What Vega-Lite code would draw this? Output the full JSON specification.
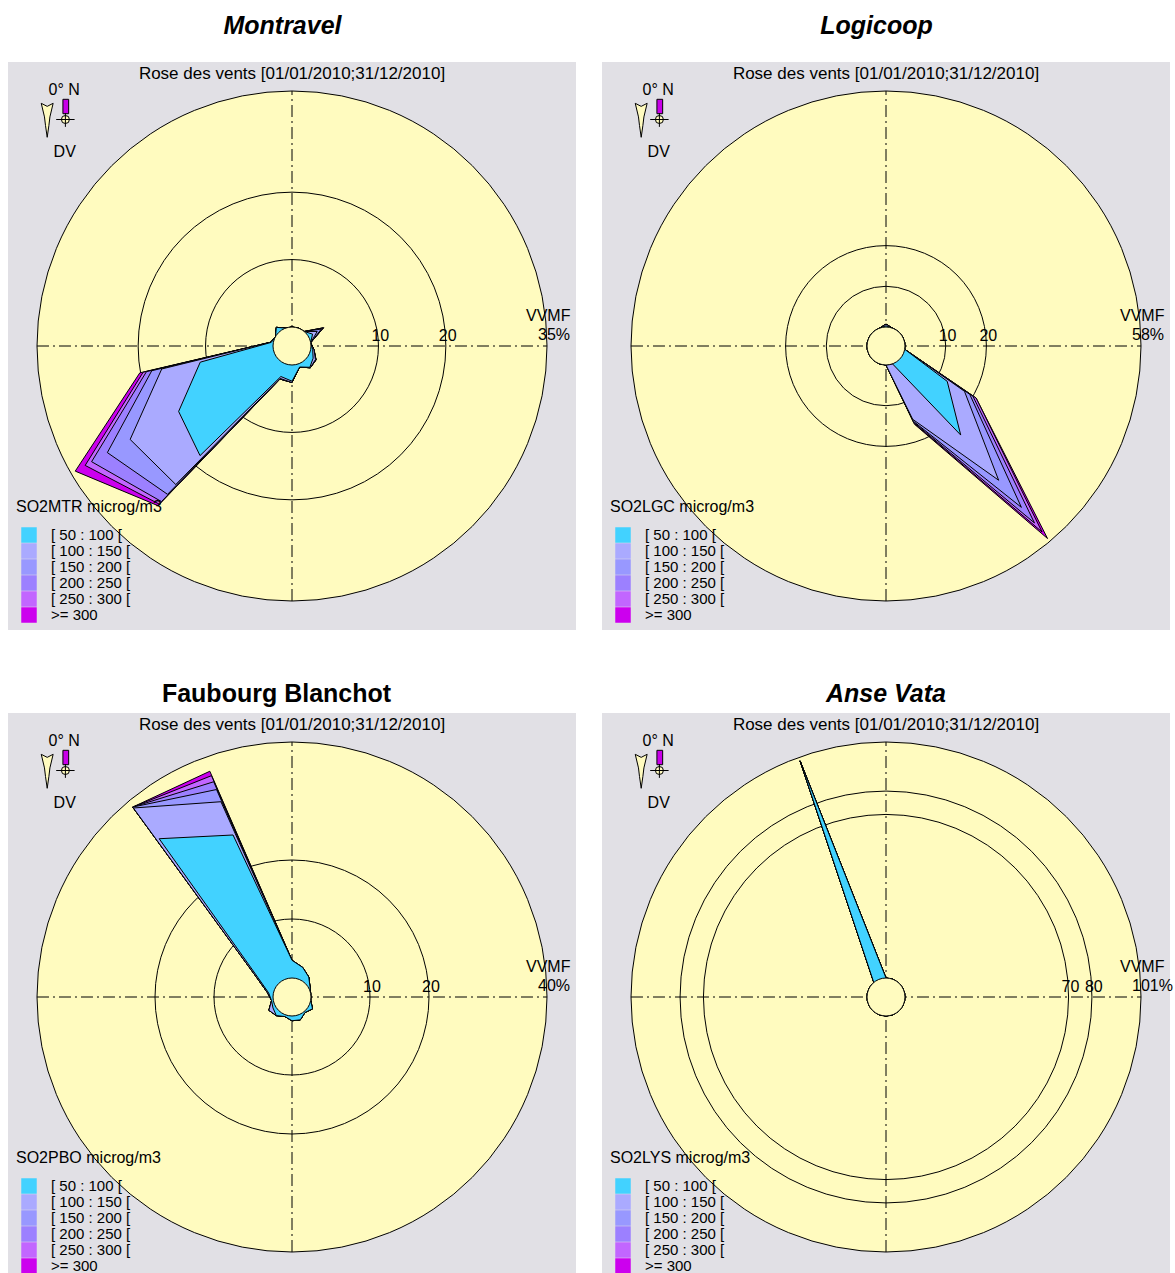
{
"$schema":"https://vega.github.io/schema/vega-lite/v6.json",
"padding":{"left":8,"top":14,"right":0,"bottom":0},
"autosize":{"type":"pad"},
"background":"white",
"bounds":"flush",
"columns":2,
"spacing":{"row":83,"column":26},
"config":{
 "font":"Liberation Sans",
 "view":{"fill":"#e1e0e5","stroke":null},
 "axis":{"disable":true},
 "text":{"fontSize":16,"color":"black","font":"Liberation Sans"},
 "title":{"font":"Liberation Sans","fontSize":25,"fontWeight":"bold","color":"black","baseline":"alphabetic","frame":"group","anchor":"middle"},
 "legend":{"orient":"none","direction":"vertical","symbolType":"square","symbolSize":240,"symbolStrokeWidth":0,"symbolOffset":5,"labelOffset":14,"rowPadding":0,"titlePadding":12,"labelFont":"Liberation Sans","labelFontSize":15,"titleFont":"Liberation Sans","titleFontSize":16,"titleFontWeight":"normal","titleColor":"black","labelColor":"black","padding":0,"labelLimit":0,"titleLimit":0,"symbolOpacity":1}
},
"datasets":{
 "mtr":[
  {"dir":0,"c50":0,"c100":0,"c150":0,"c200":0,"c250":0,"c300":0},
  {"dir":20,"c50":0,"c100":0,"c150":0,"c200":0,"c250":0,"c300":0},
  {"dir":40,"c50":0,"c100":0,"c150":0,"c200":0,"c250":0,"c300":0},
  {"dir":60,"c50":0.7,"c100":1.5,"c150":2.2,"c200":2.5,"c250":2.6,"c300":2.6},
  {"dir":80,"c50":0,"c100":0,"c150":0,"c200":0,"c250":0,"c300":0},
  {"dir":100,"c50":0.3,"c100":0.5,"c150":0.5,"c200":0.5,"c250":0.5,"c300":0.5},
  {"dir":120,"c50":0.8,"c100":1.2,"c150":1.3,"c200":1.3,"c250":1.3,"c300":1.3},
  {"dir":140,"c50":1.3,"c100":1.4,"c150":1.4,"c200":1.4,"c250":1.4,"c300":1.4},
  {"dir":160,"c50":0.5,"c100":0.5,"c150":0.5,"c200":0.5,"c250":0.5,"c300":0.5},
  {"dir":180,"c50":2.4,"c100":2.6,"c150":2.6,"c200":2.6,"c250":2.6,"c300":2.6},
  {"dir":200,"c50":2.0,"c100":2.3,"c150":2.4,"c200":2.4,"c250":2.4,"c300":2.4},
  {"dir":220,"c50":18.4,"c100":24.0,"c150":25.9,"c200":27.3,"c250":27.8,"c300":28.1},
  {"dir":240,"c50":16.6,"c100":24.9,"c150":28.8,"c200":31.5,"c250":32.6,"c300":34.3},
  {"dir":260,"c50":11.0,"c100":16.8,"c150":18.3,"c200":19.1,"c250":19.6,"c300":20.1},
  {"dir":280,"c50":0.3,"c100":0.4,"c150":0.4,"c200":0.4,"c250":0.4,"c300":0.4},
  {"dir":300,"c50":0,"c100":0,"c150":0,"c200":0,"c250":0,"c300":0},
  {"dir":320,"c50":0.8,"c100":0.8,"c150":0.8,"c200":0.8,"c250":0.8,"c300":0.8},
  {"dir":340,"c50":0,"c100":0,"c150":0,"c200":0,"c250":0,"c300":0}
 ],
 "lgc":[
  {"dir":0,"c50":0.3,"c100":0.7,"c150":0.7,"c200":0.7,"c250":0.7,"c300":0.7},
  {"dir":20,"c50":0,"c100":0,"c150":0,"c200":0,"c250":0,"c300":0},
  {"dir":40,"c50":0,"c100":0,"c150":0,"c200":0,"c250":0,"c300":0},
  {"dir":60,"c50":0,"c100":0,"c150":0,"c200":0,"c250":0,"c300":0},
  {"dir":80,"c50":0,"c100":0,"c150":0,"c200":0,"c250":0,"c300":0},
  {"dir":100,"c50":0,"c100":0,"c150":0,"c200":0,"c250":0,"c300":0},
  {"dir":120,"c50":12.7,"c100":17.6,"c150":19.1,"c200":20.0,"c250":20.9,"c300":20.9},
  {"dir":140,"c50":23.9,"c100":38.4,"c150":47.1,"c200":52.1,"c250":55.0,"c300":57.1},
  {"dir":160,"c50":0,"c100":14.5,"c150":15.0,"c200":15.3,"c250":15.6,"c300":15.8},
  {"dir":180,"c50":0,"c100":0,"c150":0,"c200":0,"c250":0,"c300":0},
  {"dir":200,"c50":0,"c100":0,"c150":0,"c200":0,"c250":0,"c300":0},
  {"dir":220,"c50":0,"c100":0,"c150":0,"c200":0,"c250":0,"c300":0},
  {"dir":240,"c50":0,"c100":0,"c150":0,"c200":0,"c250":0,"c300":0},
  {"dir":260,"c50":0,"c100":0,"c150":0,"c200":0,"c250":0,"c300":0},
  {"dir":280,"c50":0,"c100":0,"c150":0,"c200":0,"c250":0,"c300":0},
  {"dir":300,"c50":0,"c100":0,"c150":0,"c200":0,"c250":0,"c300":0},
  {"dir":320,"c50":0,"c100":0,"c150":0,"c200":0,"c250":0,"c300":0},
  {"dir":340,"c50":0,"c100":0,"c150":0,"c200":0,"c250":0,"c300":0}
 ],
 "pbo":[
  {"dir":0,"c50":3.0,"c100":3.0,"c150":3.0,"c200":3.0,"c250":3.0,"c300":3.0},
  {"dir":20,"c50":2.1,"c100":2.1,"c150":2.1,"c200":2.1,"c250":2.1,"c300":2.1},
  {"dir":40,"c50":1.2,"c100":1.2,"c150":1.2,"c200":1.2,"c250":1.2,"c300":1.2},
  {"dir":60,"c50":0.3,"c100":0.3,"c150":0.3,"c200":0.3,"c250":0.3,"c300":0.3},
  {"dir":80,"c50":0,"c100":0,"c150":0,"c200":0,"c250":0,"c300":0},
  {"dir":100,"c50":0,"c100":0,"c150":0,"c200":0,"c250":0,"c300":0},
  {"dir":120,"c50":0.8,"c100":0.8,"c150":0.8,"c200":0.8,"c250":0.8,"c300":0.8},
  {"dir":140,"c50":0.2,"c100":0.2,"c150":0.2,"c200":0.2,"c250":0.2,"c300":0.2},
  {"dir":160,"c50":0.9,"c100":0.9,"c150":0.9,"c200":0.9,"c250":0.9,"c300":0.9},
  {"dir":180,"c50":0.8,"c100":0.8,"c150":0.8,"c200":0.8,"c250":0.8,"c300":0.8},
  {"dir":200,"c50":0.3,"c100":0.3,"c150":0.3,"c200":0.3,"c250":0.3,"c300":0.3},
  {"dir":220,"c50":0.9,"c100":0.9,"c150":0.9,"c200":0.9,"c250":0.9,"c300":0.9},
  {"dir":240,"c50":0.5,"c100":1.3,"c150":1.3,"c200":1.3,"c250":1.3,"c300":1.3},
  {"dir":260,"c50":0.3,"c100":0.3,"c150":0.3,"c200":0.3,"c250":0.3,"c300":0.3},
  {"dir":280,"c50":0.8,"c100":1.0,"c150":1.0,"c200":1.0,"c250":1.0,"c300":1.0},
  {"dir":300,"c50":3.5,"c100":3.9,"c150":3.9,"c200":3.9,"c250":3.9,"c300":3.9},
  {"dir":320,"c50":31.8,"c100":38.6,"c150":38.8,"c200":38.8,"c250":38.8,"c300":38.8},
  {"dir":340,"c50":26.0,"c100":32.0,"c150":34.2,"c200":35.6,"c250":36.7,"c300":37.5}
 ],
 "lys":[
  {"dir":0,"c50":0,"c100":0,"c150":0,"c200":0,"c250":0,"c300":0},
  {"dir":20,"c50":0,"c100":0,"c150":0,"c200":0,"c250":0,"c300":0},
  {"dir":40,"c50":0,"c100":0,"c150":0,"c200":0,"c250":0,"c300":0},
  {"dir":60,"c50":0,"c100":0,"c150":0,"c200":0,"c250":0,"c300":0},
  {"dir":80,"c50":0,"c100":0,"c150":0,"c200":0,"c250":0,"c300":0},
  {"dir":100,"c50":0,"c100":0,"c150":0,"c200":0,"c250":0,"c300":0},
  {"dir":120,"c50":0,"c100":0,"c150":0,"c200":0,"c250":0,"c300":0},
  {"dir":140,"c50":0,"c100":0,"c150":0,"c200":0,"c250":0,"c300":0},
  {"dir":160,"c50":0,"c100":0,"c150":0,"c200":0,"c250":0,"c300":0},
  {"dir":180,"c50":0,"c100":0,"c150":0,"c200":0,"c250":0,"c300":0},
  {"dir":200,"c50":0,"c100":0,"c150":0,"c200":0,"c250":0,"c300":0},
  {"dir":220,"c50":0,"c100":0,"c150":0,"c200":0,"c250":0,"c300":0},
  {"dir":240,"c50":0,"c100":0,"c150":0,"c200":0,"c250":0,"c300":0},
  {"dir":260,"c50":0,"c100":0,"c150":0,"c200":0,"c250":0,"c300":0},
  {"dir":280,"c50":0,"c100":0,"c150":0,"c200":0,"c250":0,"c300":0},
  {"dir":300,"c50":0,"c100":0,"c150":0,"c200":0,"c250":0,"c300":0},
  {"dir":320,"c50":0,"c100":0,"c150":0,"c200":0,"c250":0,"c300":0},
  {"dir":340,"c50":99.4,"c100":99.4,"c150":99.4,"c200":99.4,"c250":99.4,"c300":99.4}
 ],
 "mtr_r":[{"kind":"outer","pct":35,"label":"35%"},{"kind":"ring","pct":10,"label":"10"},{"kind":"ring","pct":20,"label":"20"},{"kind":"hole","pct":0,"label":""}],
 "lgc_r":[{"kind":"outer","pct":58,"label":"58%"},{"kind":"ring","pct":10,"label":"10"},{"kind":"ring","pct":20,"label":"20"},{"kind":"hole","pct":0,"label":""}],
 "pbo_r":[{"kind":"outer","pct":40,"label":"40%"},{"kind":"ring","pct":10,"label":"10"},{"kind":"ring","pct":20,"label":"20"},{"kind":"hole","pct":0,"label":""}],
 "lys_r":[{"kind":"outer","pct":101,"label":"101%"},{"kind":"ring","pct":70,"label":"70"},{"kind":"ring","pct":80,"label":"80"},{"kind":"hole","pct":0,"label":""}]
},
"resolve":{"scale":{"fill":"independent","x":"independent","y":"independent","radius":"independent"},"legend":{"fill":"independent"}},
"concat":[
{
 "width":568,"height":568,
 "title":{"text":"Montravel","fontStyle":"italic","dx":-9.5,"offset":23},
 "data":{"values":[{}]},
 "layer":[
  {"data":{"name":"mtr_r"},"transform":[{"filter":"datum.kind=='outer'"},{"calculate":"(19+datum.pct*236/35)/284","as":"rn"}],"mark":{"type":"arc","theta":0,"theta2":6.2832,"fill":"#fffbbf","stroke":"black","strokeWidth":1},"encoding":{"radius":{"field":"rn","type":"quantitative","stack":null,"scale":{"type":"linear","domain":[0,1],"range":[0,284]}}}},
  {"data":{"name":"mtr_r"},"transform":[{"filter":"datum.kind=='ring'"},{"calculate":"(19+datum.pct*236/35)/284","as":"rn"}],"mark":{"type":"arc","theta":0,"theta2":6.2832,"filled":false,"stroke":"black","strokeWidth":1},"encoding":{"radius":{"field":"rn","type":"quantitative","stack":null,"scale":{"type":"linear","domain":[0,1],"range":[0,284]}}}},
  {"mark":{"type":"rule","stroke":"black","strokeDash":[12,4,2,4]},"encoding":{"x":{"datum":-0.8979},"x2":{"datum":0.8979},"y":{"datum":0}}},
  {"mark":{"type":"rule","stroke":"black","strokeDash":[12,4,2,4]},"encoding":{"y":{"datum":-0.8979},"y2":{"datum":0.8979},"x":{"datum":0}}},
  {"data":{"name":"mtr"},"transform":[{"fold":["c300","c250","c200","c150","c100","c50"],"as":["cls","pct"]},{"calculate":"(19+datum.pct*236/35)/284","as":"rn"},{"calculate":"datum.rn*sin(datum.dir*PI/180)","as":"px"},{"calculate":"datum.rn*cos(datum.dir*PI/180)","as":"py"}],
   "mark":{"type":"line","interpolate":"linear-closed","stroke":"black","strokeWidth":1},
   "encoding":{"x":{"field":"px","type":"quantitative","scale":{"domain":[-1,1]}},"y":{"field":"py","type":"quantitative","scale":{"domain":[-1,1]}},"order":{"field":"dir","type":"quantitative"},
    "fill":{"field":"cls","type":"nominal","title":"SO2MTR microg/m3","scale":{"domain":["c50","c100","c150","c200","c250","c300"],"range":["#42d2ff","#aaaaff","#9898ff","#9c80ff","#c266ff","#cc00ee"]},"legend":{"legendX":8,"legendY":437,"labelExpr":"{'c50':'[ 50 : 100 [','c100':'[ 100 : 150 [','c150':'[ 150 : 200 [','c200':'[ 200 : 250 [','c250':'[ 250 : 300 [','c300':'>= 300'}[datum.label]"}}}},
  {"data":{"name":"mtr_r"},"transform":[{"filter":"datum.kind=='hole'"},{"calculate":"(19+datum.pct*236/35)/284","as":"rn"}],"mark":{"type":"arc","theta":0,"theta2":6.2832,"fill":"#fffbbf","stroke":"black","strokeWidth":1},"encoding":{"radius":{"field":"rn","type":"quantitative","stack":null,"scale":{"type":"linear","domain":[0,1],"range":[0,284]}}}},
  {"data":{"name":"mtr_r"},"transform":[{"filter":"datum.kind=='ring'"},{"calculate":"(19+datum.pct*236/35)/284","as":"rn"}],"mark":{"type":"text","align":"left","baseline":"alphabetic","dx":-7,"dy":-5},"encoding":{"x":{"field":"rn","type":"quantitative"},"y":{"datum":0},"text":{"field":"label"}}},
  {"data":{"name":"mtr_r"},"transform":[{"filter":"datum.kind=='outer'"},{"calculate":"(19+datum.pct*236/35)/284","as":"rn"}],"mark":{"type":"text","align":"left","baseline":"alphabetic","dx":-9,"dy":-6},"encoding":{"x":{"field":"rn","type":"quantitative"},"y":{"datum":0},"text":{"field":"label"}}},
  {"data":{"name":"mtr_r"},"transform":[{"filter":"datum.kind=='outer'"},{"calculate":"(19+datum.pct*236/35)/284","as":"rn"}],"mark":{"type":"text","text":"VVMF","align":"left","baseline":"alphabetic","dx":-21,"dy":-25},"encoding":{"x":{"field":"rn","type":"quantitative"},"y":{"datum":0}}},
  {"mark":{"type":"text","text":"Rose des vents [01/01/2010;31/12/2010]","fontSize":17,"align":"center","baseline":"alphabetic"},"encoding":{"x":{"datum":0},"y":{"datum":0.9401}}},
  {"mark":{"type":"text","text":"0° N","align":"center","baseline":"alphabetic"},"encoding":{"x":{"datum":-0.8021},"y":{"datum":0.8827}}},
  {"mark":{"type":"text","text":"DV","align":"center","baseline":"alphabetic"},"encoding":{"x":{"datum":-0.8004},"y":{"datum":0.6655}}},
  {"mark":{"type":"point","shape":"M-0.35,-1L0,-0.82L0.35,-1L0.16,-0.2L0.1,0.3L0,1L-0.1,0.3L-0.16,-0.2Z","size":1156,"filled":true,"fill":"#fffbbf","stroke":"black","strokeWidth":1,"opacity":1},"encoding":{"x":{"datum":-0.862},"y":{"datum":0.7947}}},
  {"mark":{"type":"point","shape":"M-0.4,-1H0.4V1H-0.4Z","size":207,"filled":true,"fill":"#c800e8","stroke":"black","strokeWidth":1,"opacity":1},"encoding":{"x":{"datum":-0.7965},"y":{"datum":0.8433}}},
  {"mark":{"type":"point","shape":"circle","size":64,"filled":true,"fill":"#fffbbf","stroke":"black","strokeWidth":1,"opacity":1},"encoding":{"x":{"datum":-0.7979},"y":{"datum":0.7975}}},
  {"mark":{"type":"point","shape":"M-1,0H1M0,-0.7V0.8","size":339,"filled":false,"stroke":"black","strokeWidth":1,"opacity":1},"encoding":{"x":{"datum":-0.7979},"y":{"datum":0.7975}}}
 ]
},
{
 "width":568,"height":568,
 "title":{"text":"Logicoop","fontStyle":"italic","dx":-9.5,"offset":23},
 "data":{"values":[{}]},
 "layer":[
  {"data":{"name":"lgc_r"},"transform":[{"filter":"datum.kind=='outer'"},{"calculate":"(19+datum.pct*236/58)/284","as":"rn"}],"mark":{"type":"arc","theta":0,"theta2":6.2832,"fill":"#fffbbf","stroke":"black","strokeWidth":1},"encoding":{"radius":{"field":"rn","type":"quantitative","stack":null,"scale":{"type":"linear","domain":[0,1],"range":[0,284]}}}},
  {"data":{"name":"lgc_r"},"transform":[{"filter":"datum.kind=='ring'"},{"calculate":"(19+datum.pct*236/58)/284","as":"rn"}],"mark":{"type":"arc","theta":0,"theta2":6.2832,"filled":false,"stroke":"black","strokeWidth":1},"encoding":{"radius":{"field":"rn","type":"quantitative","stack":null,"scale":{"type":"linear","domain":[0,1],"range":[0,284]}}}},
  {"mark":{"type":"rule","stroke":"black","strokeDash":[12,4,2,4]},"encoding":{"x":{"datum":-0.8979},"x2":{"datum":0.8979},"y":{"datum":0}}},
  {"mark":{"type":"rule","stroke":"black","strokeDash":[12,4,2,4]},"encoding":{"y":{"datum":-0.8979},"y2":{"datum":0.8979},"x":{"datum":0}}},
  {"data":{"name":"lgc"},"transform":[{"fold":["c300","c250","c200","c150","c100","c50"],"as":["cls","pct"]},{"calculate":"(19+datum.pct*236/58)/284","as":"rn"},{"calculate":"datum.rn*sin(datum.dir*PI/180)","as":"px"},{"calculate":"datum.rn*cos(datum.dir*PI/180)","as":"py"}],
   "mark":{"type":"line","interpolate":"linear-closed","stroke":"black","strokeWidth":1},
   "encoding":{"x":{"field":"px","type":"quantitative","scale":{"domain":[-1,1]}},"y":{"field":"py","type":"quantitative","scale":{"domain":[-1,1]}},"order":{"field":"dir","type":"quantitative"},
    "fill":{"field":"cls","type":"nominal","title":"SO2LGC microg/m3","scale":{"domain":["c50","c100","c150","c200","c250","c300"],"range":["#42d2ff","#aaaaff","#9898ff","#9c80ff","#c266ff","#cc00ee"]},"legend":{"legendX":8,"legendY":437,"labelExpr":"{'c50':'[ 50 : 100 [','c100':'[ 100 : 150 [','c150':'[ 150 : 200 [','c200':'[ 200 : 250 [','c250':'[ 250 : 300 [','c300':'>= 300'}[datum.label]"}}}},
  {"data":{"name":"lgc_r"},"transform":[{"filter":"datum.kind=='hole'"},{"calculate":"(19+datum.pct*236/58)/284","as":"rn"}],"mark":{"type":"arc","theta":0,"theta2":6.2832,"fill":"#fffbbf","stroke":"black","strokeWidth":1},"encoding":{"radius":{"field":"rn","type":"quantitative","stack":null,"scale":{"type":"linear","domain":[0,1],"range":[0,284]}}}},
  {"data":{"name":"lgc_r"},"transform":[{"filter":"datum.kind=='ring'"},{"calculate":"(19+datum.pct*236/58)/284","as":"rn"}],"mark":{"type":"text","align":"left","baseline":"alphabetic","dx":-7,"dy":-5},"encoding":{"x":{"field":"rn","type":"quantitative"},"y":{"datum":0},"text":{"field":"label"}}},
  {"data":{"name":"lgc_r"},"transform":[{"filter":"datum.kind=='outer'"},{"calculate":"(19+datum.pct*236/58)/284","as":"rn"}],"mark":{"type":"text","align":"left","baseline":"alphabetic","dx":-9,"dy":-6},"encoding":{"x":{"field":"rn","type":"quantitative"},"y":{"datum":0},"text":{"field":"label"}}},
  {"data":{"name":"lgc_r"},"transform":[{"filter":"datum.kind=='outer'"},{"calculate":"(19+datum.pct*236/58)/284","as":"rn"}],"mark":{"type":"text","text":"VVMF","align":"left","baseline":"alphabetic","dx":-21,"dy":-25},"encoding":{"x":{"field":"rn","type":"quantitative"},"y":{"datum":0}}},
  {"mark":{"type":"text","text":"Rose des vents [01/01/2010;31/12/2010]","fontSize":17,"align":"center","baseline":"alphabetic"},"encoding":{"x":{"datum":0},"y":{"datum":0.9401}}},
  {"mark":{"type":"text","text":"0° N","align":"center","baseline":"alphabetic"},"encoding":{"x":{"datum":-0.8021},"y":{"datum":0.8827}}},
  {"mark":{"type":"text","text":"DV","align":"center","baseline":"alphabetic"},"encoding":{"x":{"datum":-0.8004},"y":{"datum":0.6655}}},
  {"mark":{"type":"point","shape":"M-0.35,-1L0,-0.82L0.35,-1L0.16,-0.2L0.1,0.3L0,1L-0.1,0.3L-0.16,-0.2Z","size":1156,"filled":true,"fill":"#fffbbf","stroke":"black","strokeWidth":1,"opacity":1},"encoding":{"x":{"datum":-0.862},"y":{"datum":0.7947}}},
  {"mark":{"type":"point","shape":"M-0.4,-1H0.4V1H-0.4Z","size":207,"filled":true,"fill":"#c800e8","stroke":"black","strokeWidth":1,"opacity":1},"encoding":{"x":{"datum":-0.7965},"y":{"datum":0.8433}}},
  {"mark":{"type":"point","shape":"circle","size":64,"filled":true,"fill":"#fffbbf","stroke":"black","strokeWidth":1,"opacity":1},"encoding":{"x":{"datum":-0.7979},"y":{"datum":0.7975}}},
  {"mark":{"type":"point","shape":"M-1,0H1M0,-0.7V0.8","size":339,"filled":false,"stroke":"black","strokeWidth":1,"opacity":1},"encoding":{"x":{"datum":-0.7979},"y":{"datum":0.7975}}}
 ]
},
{
 "width":568,"height":568,
 "title":{"text":"Faubourg Blanchot","fontStyle":"normal","dx":-15.5,"offset":6},
 "data":{"values":[{}]},
 "layer":[
  {"data":{"name":"pbo_r"},"transform":[{"filter":"datum.kind=='outer'"},{"calculate":"(19+datum.pct*236/40)/284","as":"rn"}],"mark":{"type":"arc","theta":0,"theta2":6.2832,"fill":"#fffbbf","stroke":"black","strokeWidth":1},"encoding":{"radius":{"field":"rn","type":"quantitative","stack":null,"scale":{"type":"linear","domain":[0,1],"range":[0,284]}}}},
  {"data":{"name":"pbo_r"},"transform":[{"filter":"datum.kind=='ring'"},{"calculate":"(19+datum.pct*236/40)/284","as":"rn"}],"mark":{"type":"arc","theta":0,"theta2":6.2832,"filled":false,"stroke":"black","strokeWidth":1},"encoding":{"radius":{"field":"rn","type":"quantitative","stack":null,"scale":{"type":"linear","domain":[0,1],"range":[0,284]}}}},
  {"mark":{"type":"rule","stroke":"black","strokeDash":[12,4,2,4]},"encoding":{"x":{"datum":-0.8979},"x2":{"datum":0.8979},"y":{"datum":0}}},
  {"mark":{"type":"rule","stroke":"black","strokeDash":[12,4,2,4]},"encoding":{"y":{"datum":-0.8979},"y2":{"datum":0.8979},"x":{"datum":0}}},
  {"data":{"name":"pbo"},"transform":[{"fold":["c300","c250","c200","c150","c100","c50"],"as":["cls","pct"]},{"calculate":"(19+datum.pct*236/40)/284","as":"rn"},{"calculate":"datum.rn*sin(datum.dir*PI/180)","as":"px"},{"calculate":"datum.rn*cos(datum.dir*PI/180)","as":"py"}],
   "mark":{"type":"line","interpolate":"linear-closed","stroke":"black","strokeWidth":1},
   "encoding":{"x":{"field":"px","type":"quantitative","scale":{"domain":[-1,1]}},"y":{"field":"py","type":"quantitative","scale":{"domain":[-1,1]}},"order":{"field":"dir","type":"quantitative"},
    "fill":{"field":"cls","type":"nominal","title":"SO2PBO microg/m3","scale":{"domain":["c50","c100","c150","c200","c250","c300"],"range":["#42d2ff","#aaaaff","#9898ff","#9c80ff","#c266ff","#cc00ee"]},"legend":{"legendX":8,"legendY":437,"labelExpr":"{'c50':'[ 50 : 100 [','c100':'[ 100 : 150 [','c150':'[ 150 : 200 [','c200':'[ 200 : 250 [','c250':'[ 250 : 300 [','c300':'>= 300'}[datum.label]"}}}},
  {"data":{"name":"pbo_r"},"transform":[{"filter":"datum.kind=='hole'"},{"calculate":"(19+datum.pct*236/40)/284","as":"rn"}],"mark":{"type":"arc","theta":0,"theta2":6.2832,"fill":"#fffbbf","stroke":"black","strokeWidth":1},"encoding":{"radius":{"field":"rn","type":"quantitative","stack":null,"scale":{"type":"linear","domain":[0,1],"range":[0,284]}}}},
  {"data":{"name":"pbo_r"},"transform":[{"filter":"datum.kind=='ring'"},{"calculate":"(19+datum.pct*236/40)/284","as":"rn"}],"mark":{"type":"text","align":"left","baseline":"alphabetic","dx":-7,"dy":-5},"encoding":{"x":{"field":"rn","type":"quantitative"},"y":{"datum":0},"text":{"field":"label"}}},
  {"data":{"name":"pbo_r"},"transform":[{"filter":"datum.kind=='outer'"},{"calculate":"(19+datum.pct*236/40)/284","as":"rn"}],"mark":{"type":"text","align":"left","baseline":"alphabetic","dx":-9,"dy":-6},"encoding":{"x":{"field":"rn","type":"quantitative"},"y":{"datum":0},"text":{"field":"label"}}},
  {"data":{"name":"pbo_r"},"transform":[{"filter":"datum.kind=='outer'"},{"calculate":"(19+datum.pct*236/40)/284","as":"rn"}],"mark":{"type":"text","text":"VVMF","align":"left","baseline":"alphabetic","dx":-21,"dy":-25},"encoding":{"x":{"field":"rn","type":"quantitative"},"y":{"datum":0}}},
  {"mark":{"type":"text","text":"Rose des vents [01/01/2010;31/12/2010]","fontSize":17,"align":"center","baseline":"alphabetic"},"encoding":{"x":{"datum":0},"y":{"datum":0.9401}}},
  {"mark":{"type":"text","text":"0° N","align":"center","baseline":"alphabetic"},"encoding":{"x":{"datum":-0.8021},"y":{"datum":0.8827}}},
  {"mark":{"type":"text","text":"DV","align":"center","baseline":"alphabetic"},"encoding":{"x":{"datum":-0.8004},"y":{"datum":0.6655}}},
  {"mark":{"type":"point","shape":"M-0.35,-1L0,-0.82L0.35,-1L0.16,-0.2L0.1,0.3L0,1L-0.1,0.3L-0.16,-0.2Z","size":1156,"filled":true,"fill":"#fffbbf","stroke":"black","strokeWidth":1,"opacity":1},"encoding":{"x":{"datum":-0.862},"y":{"datum":0.7947}}},
  {"mark":{"type":"point","shape":"M-0.4,-1H0.4V1H-0.4Z","size":207,"filled":true,"fill":"#c800e8","stroke":"black","strokeWidth":1,"opacity":1},"encoding":{"x":{"datum":-0.7965},"y":{"datum":0.8433}}},
  {"mark":{"type":"point","shape":"circle","size":64,"filled":true,"fill":"#fffbbf","stroke":"black","strokeWidth":1,"opacity":1},"encoding":{"x":{"datum":-0.7979},"y":{"datum":0.7975}}},
  {"mark":{"type":"point","shape":"M-1,0H1M0,-0.7V0.8","size":339,"filled":false,"stroke":"black","strokeWidth":1,"opacity":1},"encoding":{"x":{"datum":-0.7979},"y":{"datum":0.7975}}}
 ]
},
{
 "width":568,"height":568,
 "title":{"text":"Anse Vata","fontStyle":"italic","dx":0,"offset":6},
 "data":{"values":[{}]},
 "layer":[
  {"data":{"name":"lys_r"},"transform":[{"filter":"datum.kind=='outer'"},{"calculate":"(19+datum.pct*236/101)/284","as":"rn"}],"mark":{"type":"arc","theta":0,"theta2":6.2832,"fill":"#fffbbf","stroke":"black","strokeWidth":1},"encoding":{"radius":{"field":"rn","type":"quantitative","stack":null,"scale":{"type":"linear","domain":[0,1],"range":[0,284]}}}},
  {"data":{"name":"lys_r"},"transform":[{"filter":"datum.kind=='ring'"},{"calculate":"(19+datum.pct*236/101)/284","as":"rn"}],"mark":{"type":"arc","theta":0,"theta2":6.2832,"filled":false,"stroke":"black","strokeWidth":1},"encoding":{"radius":{"field":"rn","type":"quantitative","stack":null,"scale":{"type":"linear","domain":[0,1],"range":[0,284]}}}},
  {"mark":{"type":"rule","stroke":"black","strokeDash":[12,4,2,4]},"encoding":{"x":{"datum":-0.8979},"x2":{"datum":0.8979},"y":{"datum":0}}},
  {"mark":{"type":"rule","stroke":"black","strokeDash":[12,4,2,4]},"encoding":{"y":{"datum":-0.8979},"y2":{"datum":0.8979},"x":{"datum":0}}},
  {"data":{"name":"lys"},"transform":[{"fold":["c300","c250","c200","c150","c100","c50"],"as":["cls","pct"]},{"calculate":"(19+datum.pct*236/101)/284","as":"rn"},{"calculate":"datum.rn*sin(datum.dir*PI/180)","as":"px"},{"calculate":"datum.rn*cos(datum.dir*PI/180)","as":"py"}],
   "mark":{"type":"line","interpolate":"linear-closed","stroke":"black","strokeWidth":1},
   "encoding":{"x":{"field":"px","type":"quantitative","scale":{"domain":[-1,1]}},"y":{"field":"py","type":"quantitative","scale":{"domain":[-1,1]}},"order":{"field":"dir","type":"quantitative"},
    "fill":{"field":"cls","type":"nominal","title":"SO2LYS microg/m3","scale":{"domain":["c50","c100","c150","c200","c250","c300"],"range":["#42d2ff","#aaaaff","#9898ff","#9c80ff","#c266ff","#cc00ee"]},"legend":{"legendX":8,"legendY":437,"labelExpr":"{'c50':'[ 50 : 100 [','c100':'[ 100 : 150 [','c150':'[ 150 : 200 [','c200':'[ 200 : 250 [','c250':'[ 250 : 300 [','c300':'>= 300'}[datum.label]"}}}},
  {"data":{"name":"lys_r"},"transform":[{"filter":"datum.kind=='hole'"},{"calculate":"(19+datum.pct*236/101)/284","as":"rn"}],"mark":{"type":"arc","theta":0,"theta2":6.2832,"fill":"#fffbbf","stroke":"black","strokeWidth":1},"encoding":{"radius":{"field":"rn","type":"quantitative","stack":null,"scale":{"type":"linear","domain":[0,1],"range":[0,284]}}}},
  {"data":{"name":"lys_r"},"transform":[{"filter":"datum.kind=='ring'"},{"calculate":"(19+datum.pct*236/101)/284","as":"rn"}],"mark":{"type":"text","align":"left","baseline":"alphabetic","dx":-7,"dy":-5},"encoding":{"x":{"field":"rn","type":"quantitative"},"y":{"datum":0},"text":{"field":"label"}}},
  {"data":{"name":"lys_r"},"transform":[{"filter":"datum.kind=='outer'"},{"calculate":"(19+datum.pct*236/101)/284","as":"rn"}],"mark":{"type":"text","align":"left","baseline":"alphabetic","dx":-9,"dy":-6},"encoding":{"x":{"field":"rn","type":"quantitative"},"y":{"datum":0},"text":{"field":"label"}}},
  {"data":{"name":"lys_r"},"transform":[{"filter":"datum.kind=='outer'"},{"calculate":"(19+datum.pct*236/101)/284","as":"rn"}],"mark":{"type":"text","text":"VVMF","align":"left","baseline":"alphabetic","dx":-21,"dy":-25},"encoding":{"x":{"field":"rn","type":"quantitative"},"y":{"datum":0}}},
  {"mark":{"type":"text","text":"Rose des vents [01/01/2010;31/12/2010]","fontSize":17,"align":"center","baseline":"alphabetic"},"encoding":{"x":{"datum":0},"y":{"datum":0.9401}}},
  {"mark":{"type":"text","text":"0° N","align":"center","baseline":"alphabetic"},"encoding":{"x":{"datum":-0.8021},"y":{"datum":0.8827}}},
  {"mark":{"type":"text","text":"DV","align":"center","baseline":"alphabetic"},"encoding":{"x":{"datum":-0.8004},"y":{"datum":0.6655}}},
  {"mark":{"type":"point","shape":"M-0.35,-1L0,-0.82L0.35,-1L0.16,-0.2L0.1,0.3L0,1L-0.1,0.3L-0.16,-0.2Z","size":1156,"filled":true,"fill":"#fffbbf","stroke":"black","strokeWidth":1,"opacity":1},"encoding":{"x":{"datum":-0.862},"y":{"datum":0.7947}}},
  {"mark":{"type":"point","shape":"M-0.4,-1H0.4V1H-0.4Z","size":207,"filled":true,"fill":"#c800e8","stroke":"black","strokeWidth":1,"opacity":1},"encoding":{"x":{"datum":-0.7965},"y":{"datum":0.8433}}},
  {"mark":{"type":"point","shape":"circle","size":64,"filled":true,"fill":"#fffbbf","stroke":"black","strokeWidth":1,"opacity":1},"encoding":{"x":{"datum":-0.7979},"y":{"datum":0.7975}}},
  {"mark":{"type":"point","shape":"M-1,0H1M0,-0.7V0.8","size":339,"filled":false,"stroke":"black","strokeWidth":1,"opacity":1},"encoding":{"x":{"datum":-0.7979},"y":{"datum":0.7975}}}
 ]
}
]
}
